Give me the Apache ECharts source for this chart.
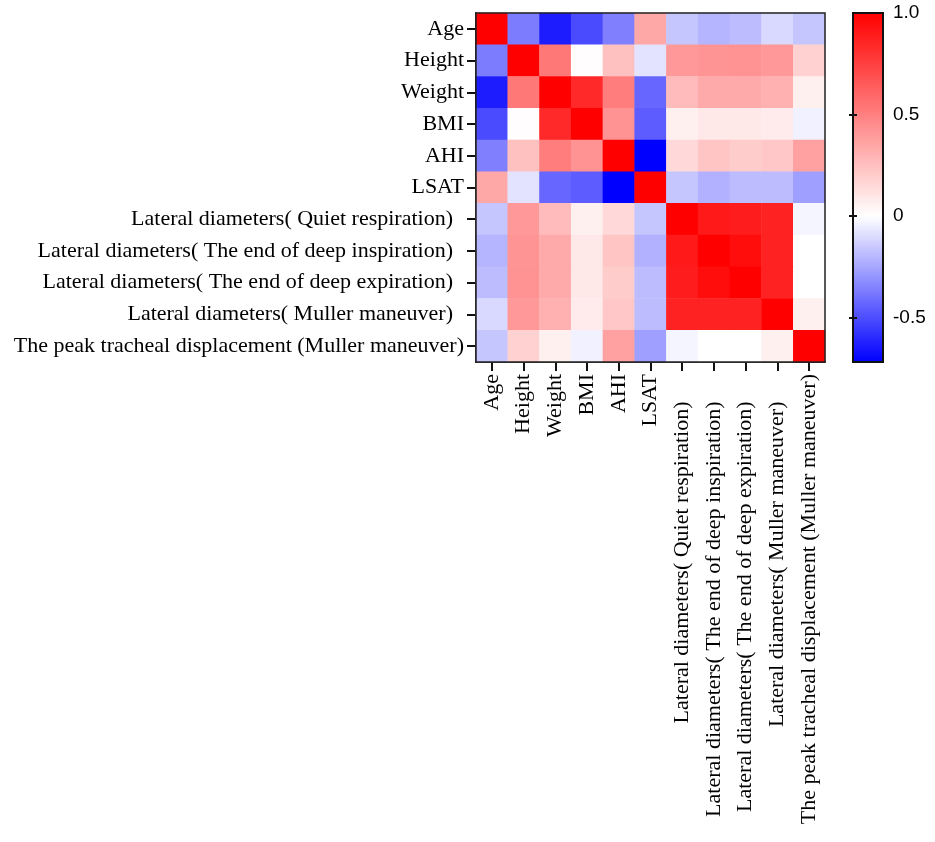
<!DOCTYPE html>
<html>
<head>
<meta charset="utf-8">
<script src="https://cdn.jsdelivr.net/npm/echarts@6/dist/echarts.min.js"></script>
<style>
html,body{margin:0;padding:0;background:#fff;}
#chart{width:935px;height:842px;}
</style>
</head>
<body>
<div id="chart"></div>
<script>
const categories = [
  'Age', 'Height', 'Weight', 'BMI', 'AHI', 'LSAT',
  'Lateral diameters( Quiet respiration)',
  'Lateral diameters( The end of deep inspiration)',
  'Lateral diameters( The end of deep expiration)',
  'Lateral diameters( Muller maneuver)',
  'The peak tracheal displacement (Muller maneuver)'
];
const rowAge    = [1.00, -0.37, -0.64, -0.51, -0.36,  0.34, -0.16, -0.21, -0.19, -0.11, -0.16];
const rowHeight = [-0.37, 1.00,  0.53,  0.01,  0.25, -0.08,  0.40,  0.42,  0.43,  0.40,  0.18];
const rowWeight = [-0.64, 0.53,  1.00,  0.84,  0.51, -0.43,  0.27,  0.33,  0.33,  0.31,  0.06];
const rowBMI    = [-0.51, 0.01,  0.84,  1.00,  0.43, -0.46,  0.06,  0.09,  0.09,  0.08, -0.04];
const rowAHI    = [-0.36, 0.25,  0.51,  0.43,  1.00, -0.72,  0.15,  0.23,  0.20,  0.22,  0.37];
const rowLSAT   = [0.34, -0.08, -0.43, -0.46, -0.72,  1.00, -0.16, -0.22, -0.19, -0.19, -0.27];
const rowLQ     = [-0.16, 0.40,  0.27,  0.06,  0.15, -0.16,  1.00,  0.90,  0.89,  0.87, -0.03];
const rowLI     = [-0.21, 0.42,  0.33,  0.09,  0.23, -0.22,  0.90,  1.00,  0.95,  0.87,  0.00];
const rowLE     = [-0.19, 0.43,  0.33,  0.09,  0.20, -0.19,  0.89,  0.95,  1.00,  0.87,  0.00];
const rowLM     = [-0.11, 0.40,  0.31,  0.08,  0.22, -0.19,  0.87,  0.87,  0.87,  1.00,  0.06];
const rowPTD    = [-0.16, 0.18,  0.06, -0.04,  0.37, -0.27, -0.03,  0.00,  0.00,  0.06,  1.00];
const rows = [rowAge, rowHeight, rowWeight, rowBMI, rowAHI, rowLSAT, rowLQ, rowLI, rowLE, rowLM, rowPTD];

const scaleMin = -0.72, scaleMax = 1.0;
const colorbarLabels = [-0.5, 0, 0.5, 1.0];
const colorbarTicks = [-0.5, 0, 0.5];

// build heatmap data [x, y, value]
const data = [];
rows.forEach((r, yi) => r.forEach((v, xi) => data.push([xi, yi, v])));

// diverging colour stops: blue -> white at 0 -> red
const stops = [];
for (let i = 0; i <= 43; i++) {
  const v = scaleMin + i * 0.04;
  let r, g, b;
  if (v < 0) { const t = v / scaleMin; r = g = Math.round(255 * (1 - t)); b = 255; }
  else { const t = Math.min(1, v / scaleMax); r = 255; g = b = Math.round(255 * (1 - t)); }
  stops.push('rgb(' + r + ',' + g + ',' + b + ')');
}

const serif = 'Liberation Serif';
const chart = echarts.init(document.getElementById('chart'));
chart.setOption({
  backgroundColor: '#fff',
  animation: false,
  grid: [
    {left: 476, top: 13, width: 349, height: 349, show: true, borderColor: '#222', borderWidth: 1.5, z: 10, backgroundColor: 'transparent'},
    {left: 853, top: 13, width: 30, height: 349, show: true, borderColor: '#111', borderWidth: 2, z: 10, backgroundColor: 'transparent'}
  ],
  xAxis: [
    {
      type: 'category', gridIndex: 0, data: categories, position: 'bottom',
      axisLine: {show: true, lineStyle: {color: '#111', width: 2}},
      axisTick: {show: true, alignWithLabel: true, length: 9, lineStyle: {color: '#111', width: 2}},
      axisLabel: {
        rotate: 90, margin: 12, interval: 0, color: '#000', fontFamily: serif, fontSize: 22,
        formatter: function (s) { return s.indexOf('Lateral') === 0 ? s + '     ' : s; }
      },
      splitLine: {show: false}
    },
    {type: 'value', gridIndex: 1, min: 0, max: 1, show: false}
  ],
  yAxis: [
    {
      type: 'category', gridIndex: 0, data: categories, inverse: true,
      axisLine: {show: true, lineStyle: {color: '#111', width: 2}},
      axisTick: {show: true, alignWithLabel: true, length: 9, lineStyle: {color: '#111', width: 2}},
      axisLabel: {
        margin: 12, interval: 0, color: '#000', fontFamily: serif, fontSize: 22,
        formatter: function (s) { return s.indexOf('Lateral') === 0 ? s + '  ' : s; }
      },
      splitLine: {show: false}
    },
    {
      type: 'value', gridIndex: 1, min: scaleMin, max: scaleMax, position: 'right', z: 10,
      axisLine: {show: false},
      axisTick: {show: true, inside: true, length: 4, customValues: colorbarTicks, lineStyle: {color: '#111', width: 2}},
      axisLabel: {
        show: true, margin: 10, color: '#000', fontFamily: 'Liberation Sans', fontSize: 19,
        customValues: colorbarLabels,
        formatter: function (v) { return Math.abs(v - 1) < 1e-9 ? '1.0' : (v === 0 ? '0' : String(v)); }
      },
      splitLine: {show: false}
    },
    {
      type: 'value', gridIndex: 1, min: scaleMin, max: scaleMax, position: 'left', z: 10,
      axisLine: {show: false},
      axisTick: {show: true, inside: true, length: 4, customValues: colorbarTicks, lineStyle: {color: '#111', width: 2}},
      axisLabel: {show: false},
      splitLine: {show: false}
    }
  ],
  visualMap: {
    type: 'continuous', min: scaleMin, max: scaleMax, seriesIndex: 0,
    calculable: false, realtime: false, hoverLink: false,
    left: 853, top: 13, itemWidth: 30, itemHeight: 349, padding: 0,
    text: null, showLabel: false,
    inRange: {color: stops}
  },
  series: [{
    type: 'heatmap', xAxisIndex: 0, yAxisIndex: 0, data: data,
    itemStyle: {borderWidth: 0},
    emphasis: {disabled: true},
    label: {show: false}
  }]
});
</script>
</body>
</html>
